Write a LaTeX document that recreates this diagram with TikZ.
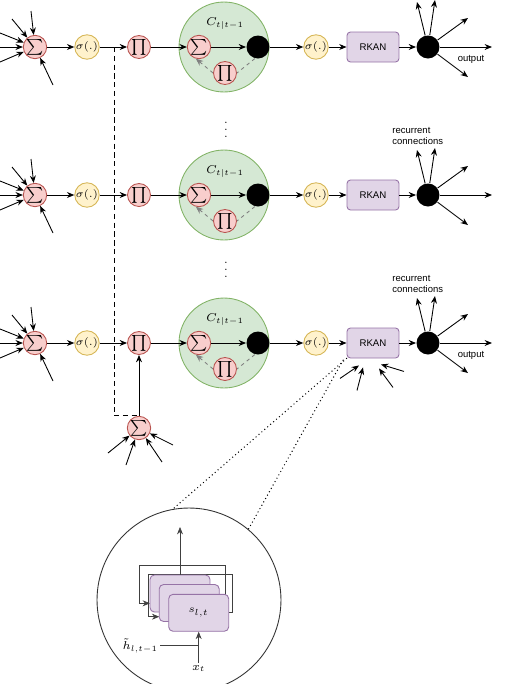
\RequirePackage{fix-cm}
\documentclass[tikz,border=0pt]{standalone}
\usepackage{amsmath}
\usepackage{fontspec}
\newfontfamily\labelfont{Liberation Sans}
\usetikzlibrary{arrows.meta,backgrounds}

\definecolor{sumfill}{HTML}{F8CECC}
\definecolor{sumline}{HTML}{B85450}
\definecolor{actfill}{HTML}{FFF2CC}
\definecolor{actline}{HTML}{D6B656}
\definecolor{cellfill}{HTML}{D5E8D4}
\definecolor{cellline}{HTML}{82B366}
\definecolor{kanfill}{HTML}{E1D5E7}
\definecolor{kanline}{HTML}{9673A6}

\begin{document}
\begin{tikzpicture}[x=0.02cm,y=-0.02cm,>={Stealth[length=4.2pt,width=3.4pt]},line width=0.5pt,
  sumnode/.style={circle,draw=sumline,fill=sumfill,minimum size=0.46cm,inner sep=0pt,font=\fontsize{9}{9}\selectfont},
  actnode/.style={circle,draw=actline,fill=actfill,minimum size=0.42cm,inner sep=0pt,font=\fontsize{6}{6}\selectfont},
  dotnode/.style={circle,fill=black,minimum size=0.46cm,inner sep=0pt},
  cellnode/.style={circle,draw=cellline,fill=cellfill,minimum size=1.8cm,inner sep=0pt},
  kanbox/.style={rectangle,rounded corners=2pt,draw=kanline,fill=kanfill,minimum width=1.04cm,minimum height=0.6cm,font=\labelfont\fontsize{5.5}{6}\selectfont},
  statebox/.style={rectangle,rounded corners=2.5pt,draw=kanline,fill=kanfill,minimum width=1.2cm,minimum height=0.74cm,inner sep=0pt,font=\fontsize{6}{6}\selectfont},
  smalltext/.style={font=\labelfont\fontsize{5.4}{6.2}\selectfont,inner sep=0pt},
  mathtext/.style={font=\fontsize{6.5}{6.5}\selectfont,inner sep=1pt},
  gate/.style={gray,dash pattern=on 2pt off 2pt},
  zoomline/.style={dash pattern=on 0pt off 2.2pt,line width=0.8pt,line cap=round},
  wire/.style={draw=black!75}]
  \useasboundingbox (0,0) rectangle (507,684);

  % three unrolled layers
  \foreach \r/\y in {1/47,2/195,3/343}{
    \node[sumnode] (in\r) at (35,\y) {$\sum$};
    \node[actnode] (act\r) at (87,\y) {$\sigma(.)$};
    \node[sumnode] (pr\r) at (139,\y) {$\prod$};
    \node[cellnode] (cell\r) at (224,\y) {};
    \node[mathtext] (cl\r) at (225,\y-23) {$C_{t|t-1}$};
    \node[sumnode] (cs\r) at (199,\y) {$\sum$};
    \node[sumnode] (cp\r) at (225,\y+26) {$\prod$};
    \node[dotnode] (cd\r) at (258,\y) {};
    \node[actnode] (ao\r) at (316,\y) {$\sigma(.)$};
    \node[kanbox] (rk\r) at (373,\y) {RKAN};
    \node[dotnode] (od\r) at (428,\y) {};
    \draw[->] (in\r) -- (act\r);
    \draw[->] (act\r) -- (pr\r);
    \draw[->] (pr\r) -- (cs\r);
    \draw[->] (cs\r) -- (cd\r);
    \draw[->] (cd\r) -- (ao\r);
    \draw[->] (ao\r) -- (rk\r);
    \draw[->] (rk\r) -- (od\r);
    \draw[gate] (cd\r.-105) -- (cp\r.east);
    \draw[gate,->] (cp\r.west) -- (cs\r.-105);
    \foreach \dx/\dy [count=\k] in {-4/-36,-23/-28,-35/-14,-35/0,-35/15,18/38}{
      \path (in\r) ++(\dx,\dy) coordinate (fi\r-\k);
      \draw[->] (fi\r-\k) -- (in\r);
    }
    \foreach \dx/\dy [count=\k] in {-11/-45,7/-47,40/-29,64/0,40/30}{
      \path (od\r) ++(\dx,\dy) coordinate (fo\r-\k);
      \draw[->] (od\r) -- (fo\r-\k);
    }
    \ifnum\r=2\else
      \node[smalltext] (ol\r) at (471,\y+12) {output};
    \fi
    \ifnum\r>1
      \node[smalltext,align=left,anchor=west] (rl\r) at (392,\y-59) {recurrent\\connections};
    \fi
  }
  \node[mathtext] (gap1) at (226,125) {$\vdots$};
  \node[mathtext] (gap2) at (226,265) {$\vdots$};

  % skip connection into the last layer
  \node[sumnode] (bs) at (139,428) {$\sum$};
  \coordinate (tap) at (114,47);
  \draw[dash pattern=on 3pt off 2pt] (tap) |- (bs.north);
  \draw[->] (bs) -- (pr3);
  \foreach \dx/\dy [count=\k] in {-31/25,-13/37,23/34,34/17}{
    \path (bs) ++(\dx,\dy) coordinate (bi-\k);
    \draw[->] (bi-\k) -- (bs);
  }
  \foreach \ax/\ay/\bx/\by [count=\k] in {-33/20/-14/7,-16/32/-10/9,20/29/6/10,31/13/8/6}{
    \path (rk3.south) ++(\ax,\ay) coordinate (ri-\k);
    \path (rk3.south) ++(\bx,\by) coordinate (rt-\k);
    \draw[->] (ri-\k) -- (rt-\k);
  }

  % zoom on the RKAN cell
  \node[draw=black!80,circle,minimum size=3.68cm,inner sep=0pt] (lens) at (189,600) {};
  \draw[zoomline] (rk3.south west) -- (lens.100);
  \draw[zoomline] ([xshift=-2pt,yshift=-1pt]rk3.south west) -- (lens.50);
  \node[statebox] (sa) at (180,593.5) {};
  \node[statebox] (sb) at (189.2,603) {};
  \node[statebox] (sc) at (198.7,612.8) {$s_{l,t}$};
  \begin{pgfonlayer}{background}
    \draw[wire,->] (sb.east) -| (225,565) -| (139.3,603.3) -- ++(10.7,0);
    \draw[wire,->] (sc.east) -| (232.7,574.3) -| (148.3,616.7) -- ++(11,0);
  \end{pgfonlayer}
  \coordinate (sout) at (180,527);
  \draw[wire,->] (sa.north) -- (sout);
  \coordinate (xin) at (198.7,663);
  \draw[wire,->] (xin) -- (sc.south);
  \node[mathtext,anchor=north] (xl) at (xin) {$x_t$};
  \coordinate (hin) at (160,645.7);
  \draw[wire] (hin) -- (hin -| xin);
  \node[mathtext,anchor=east] (hl) at (hin) {$\tilde{h}_{l,t-1}$};
\end{tikzpicture}
\end{document}
